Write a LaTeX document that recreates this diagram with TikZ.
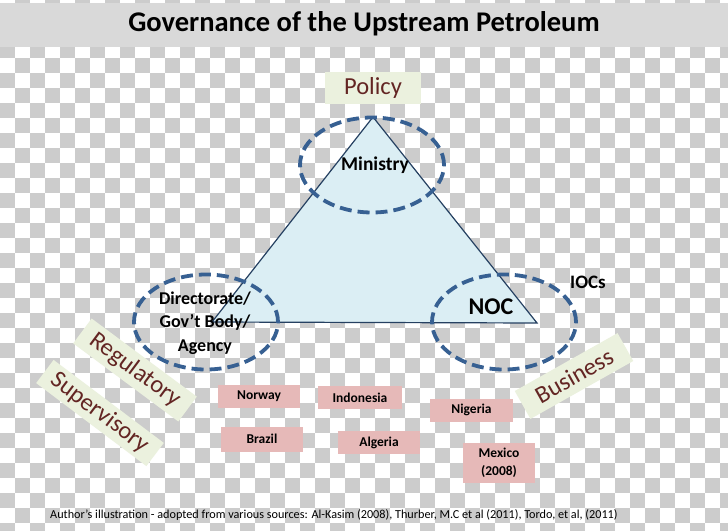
\documentclass[tikz,border=0pt]{standalone}
\usepackage{fontspec}
\setmainfont{Carlito}
\usetikzlibrary{shapes.geometric}
\definecolor{checkgray}{HTML}{CCCCCC}
\definecolor{bandgray}{HTML}{D9D9D9}
\definecolor{creamfill}{HTML}{EBF1DE}
\definecolor{darkred}{HTML}{632523}
\definecolor{pinkfill}{HTML}{E6B9B8}
\definecolor{trifill}{HTML}{DBEEF4}
\definecolor{triline}{HTML}{254061}
\definecolor{dashblue}{HTML}{376092}
\tikzset{
  labelbox/.style={fill=creamfill, text=darkred, font=\fontsize{24.5}{27}\selectfont, inner sep=0pt, align=center},
  country/.style={fill=pinkfill, font=\bfseries\fontsize{13.5}{17}\selectfont, minimum height=23pt, minimum width=82pt, inner sep=0pt, align=center},
  dashell/.style={ellipse, draw=dashblue, line width=3.8pt, dash pattern=on 12pt off 6pt, minimum width=144pt, minimum height=95pt, inner sep=0pt},
  boldtxt/.style={font=\bfseries\fontsize{19.5}{23}\selectfont, align=center, inner sep=0pt}
}
\begin{document}
\begin{tikzpicture}[x=1pt,y=-1pt]
\useasboundingbox (0,0) rectangle (728,530);
% checkerboard background
\fill[white] (0,0) rectangle (728,530);
\begin{scope}
\clip (0,0) rectangle (728,530);
\foreach \k in {-1,...,35}{
  \foreach \i in {0,...,48}{
    \pgfmathparse{int(mod(\i+\k+2,2))}
    \ifnum\pgfmathresult=0
      \fill[checkgray] (15*\i,12.5+15*\k) rectangle ++(15,15);
    \fi
  }
}
\end{scope}
% title band
\fill[bandgray] (0,3) rectangle (728,47);
\node[font=\bfseries\fontsize{28.5}{32}\selectfont, inner sep=0pt] (title) at (364,24) {Governance of the Upstream Petroleum};
% policy
\node[labelbox, minimum width=96pt, minimum height=32pt] (policy) at (373,88) {Policy};
% triangle
\coordinate (apex) at (373,117);
\coordinate (bl) at (212,322);
\coordinate (br) at (537,323);
\filldraw[fill=trifill, draw=triline, line width=1.2pt, line join=miter] (apex) -- (br) -- (bl) -- cycle;
% ellipses
\node[dashell] (ministry) at (372,165) {};
\node[boldtxt] (ministrytxt) at (375,165) {Ministry};
\node[dashell] (dir) at (206,322) {};
\node[boldtxt, font=\bfseries\fontsize{18}{23.5}\selectfont] (dirtxt) at (205,323) {Directorate/\\Gov’t Body/\\Agency};
\node[dashell] (noc) at (504,322) {};
\node[boldtxt, font=\bfseries\fontsize{24}{28}\selectfont] (noctxt) at (491,307) {NOC};
\node[boldtxt, font=\bfseries\fontsize{19}{23}\selectfont] (iocs) at (588,282) {IOCs};
% rotated labels
\node[labelbox, minimum width=131pt, minimum height=31pt, rotate=-36.6] (reg) at (135,370) {Regulatory};
\node[labelbox, minimum width=138pt, minimum height=29pt, rotate=-37] (sup) at (100,413) {Supervisory};
\node[labelbox, minimum width=118pt, minimum height=32pt, rotate=29.4] (bus) at (574,376) {Business};
% countries
\node[country] (norway) at (259,396.5) {Norway};
\node[country, minimum width=84pt] (indonesia) at (360,397.5) {Indonesia};
\node[country, minimum width=83pt] (nigeria) at (471.5,410) {Nigeria};
\node[country, minimum height=25pt] (brazil) at (262,439) {Brazil};
\node[country] (algeria) at (379,442.5) {Algeria};
\node[country, minimum width=72pt, minimum height=40pt, font=\bfseries\fontsize{13.5}{18}\selectfont] (mexico) at (499,463) {Mexico\\(2008)};
% footer
\node[font=\fontsize{12.2}{14}\selectfont, inner sep=0pt, anchor=west] (footer) at (50,515) {Author’s illustration - adopted from various sources: Al-Kasim (2008), Thurber, M.C et al (2011), Tordo, et al, (2011)};
\end{tikzpicture}
\end{document}
